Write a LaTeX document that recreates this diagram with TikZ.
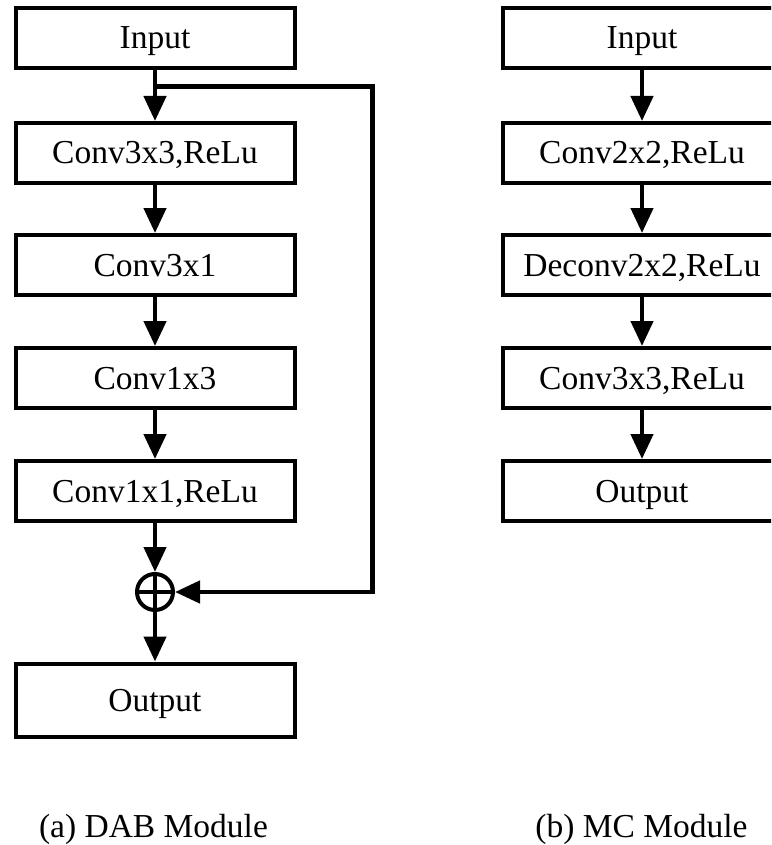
\documentclass[tikz,border=0pt]{standalone}
\usepackage{fontspec}
\setmainfont{Liberation Serif}
\usetikzlibrary{arrows.meta}
\begin{document}
\begin{tikzpicture}[x=1pt,y=-1pt,
  blk/.style={draw, line width=4pt, minimum width=279pt, minimum height=60pt, inner sep=0pt,
    text height=22pt, text depth=0pt, font=\fontsize{33.5}{40}\selectfont},
  flow/.style={line width=4.5pt, line join=miter, -{Triangle[length=25pt,width=22pt]}},
  captxt/.style={font=\fontsize{33.5}{40}\selectfont, anchor=base, inner sep=0pt}]
\useasboundingbox (0,0) rectangle (771,845);
\clip (0,0) rectangle (771,845);
% left column
\node[blk] (a0) at (155,38) {Input};
\node[blk] (a1) at (155,153) {Conv3x3,ReLu};
\node[blk] (a2) at (155,265) {Conv3x1};
\node[blk] (a3) at (155,378) {Conv1x3};
\node[blk] (a4) at (155,491) {Conv1x1,ReLu};
\node[circle, draw, line width=4pt, minimum size=36pt, inner sep=0pt] (sum) at (155,592) {};
\draw[line width=4pt] (sum.north) -- (sum.south) (sum.west) -- (sum.east);
\node[blk, minimum height=73pt] (a5) at (155,700) {Output};
\coordinate (br) at (155,86.5);
\coordinate (c1) at (372.5,86.5);
\coordinate (c2) at (372.5,592);
\draw[flow] (a0) -- (a1);
\draw[flow] (a1) -- (a2);
\draw[flow] (a2) -- (a3);
\draw[flow] (a3) -- (a4);
\draw[flow] (a4) -- (sum);
\draw[flow] (sum) -- (a5);
\draw[flow] (br) -- (c1) -- (c2) -- (sum.east);
\node[captxt] (capa) at (153.5,837) {(a) DAB Module};
% right column
\node[blk] (b0) at (642,38) {Input};
\node[blk] (b1) at (642,153) {Conv2x2,ReLu};
\node[blk] (b2) at (642,265) {Deconv2x2,ReLu};
\node[blk] (b3) at (642,378) {Conv3x3,ReLu};
\node[blk] (b4) at (642,491) {Output};
\draw[flow] (b0) -- (b1);
\draw[flow] (b1) -- (b2);
\draw[flow] (b2) -- (b3);
\draw[flow] (b3) -- (b4);
\node[captxt] (capb) at (641.5,837) {(b) MC Module};
\end{tikzpicture}
\end{document}
